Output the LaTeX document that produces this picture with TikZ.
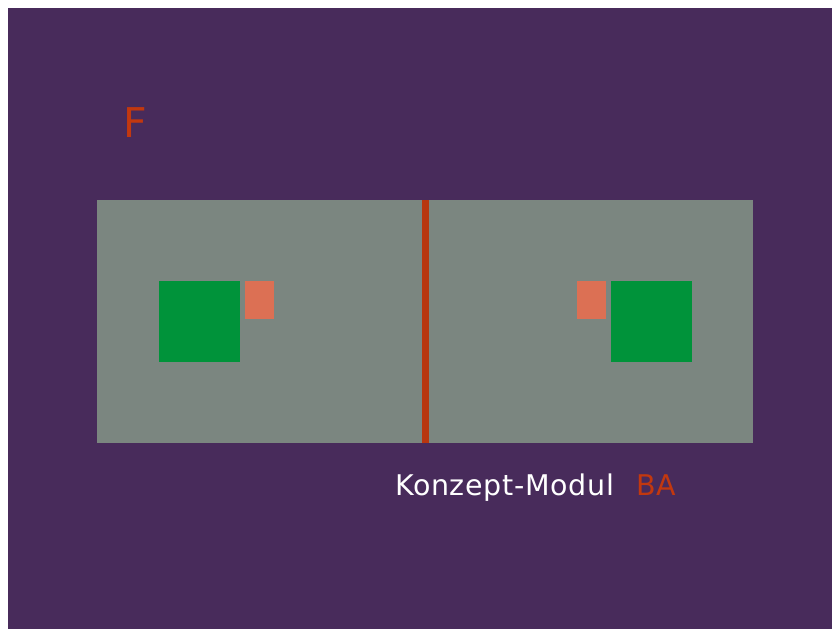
\documentclass[tikz,border=0pt]{standalone}
\usepackage{fontspec}
\setmainfont{DejaVu Sans}
\usetikzlibrary{positioning}
\definecolor{BG}{HTML}{482B5B}
\definecolor{PG}{HTML}{7B8680}
\definecolor{GR}{HTML}{00933A}
\definecolor{OR}{HTML}{DC7054}
\definecolor{RD}{HTML}{C2380F}
\definecolor{BAR}{HTML}{B8360F}

\begin{document}
\begin{tikzpicture}[x=1pt,y=-1pt,
    lbl/.style={anchor=base west, inner sep=0pt, font=\fontsize{28.5}{34}\selectfont\addfontfeatures{LetterSpace=2.3}},
    big/.style={anchor=base west, inner sep=0pt, font=\fontsize{41}{48}\selectfont}]
        \useasboundingbox (0,0) rectangle (832,629);
        \fill[BG] (8,8) rectangle (832,629);
        % panel
        \fill[PG] (97,200) rectangle (753,443);
        \fill[BAR] (422,200) rectangle (429,443);
        % left pair
        \fill[GR] (159,281) rectangle (240,362);
        \fill[OR] (245,281) rectangle (274,319);
        % right pair
        \fill[OR] (577,281) rectangle (606,319);
        \fill[GR] (611,281) rectangle (692,362);
        % texts
        \node[big, text=RD] (f) at (123,137) {F};
        \node[lbl, text=white] (modul) at (395,495) {Konzept-Modul};
        \node[lbl, text=RD] (ba) at (636,495) {BA};
      \end{tikzpicture}
\end{document}
